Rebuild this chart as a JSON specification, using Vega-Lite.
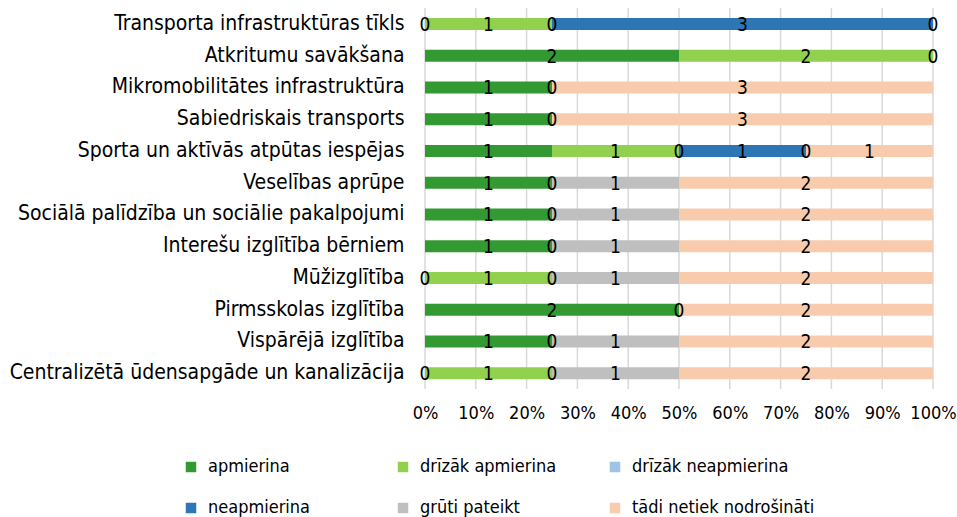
{
  "$schema": "https://vega.github.io/schema/vega-lite/v6.json",
  "autosize": {"type": "none"},
  "width": 508,
  "height": 381,
  "padding": {"left": 425, "top": 8, "right": 24, "bottom": 128},
  "background": "white",
  "config": {
    "view": {"stroke": null},
    "font": "'DejaVu Sans Condensed', 'Liberation Sans', sans-serif",
    "axis": {"labelFont": "'DejaVu Sans Condensed', 'Liberation Sans', sans-serif", "labelColor": "#000000"},
    "legend": {"labelFont": "'DejaVu Sans Condensed', 'Liberation Sans', sans-serif"}
  },
  "layer": [
    {
      "data": {"values": [{"tick": 0}, {"tick": 0.1}, {"tick": 0.2}, {"tick": 0.3}, {"tick": 0.4}, {"tick": 0.5}, {"tick": 0.6}, {"tick": 0.7}, {"tick": 0.8}, {"tick": 0.9}, {"tick": 1}]},
      "mark": {"type": "rule", "color": "#d9d9d9", "strokeWidth": 1.5},
      "encoding": {
        "x": {
          "field": "tick", "type": "quantitative",
          "scale": {"domain": [0, 1], "nice": false, "zero": false},
          "axis": {"title": null, "format": ".0%", "values": [0, 0.1, 0.2, 0.3, 0.4, 0.5, 0.6, 0.7, 0.8, 0.9, 1], "grid": false, "labelOverlap": false, "labelFlush": false, "domain": false, "tickSize": 0, "labelFontSize": 18, "labelPadding": 15}
        }
      }
    },
    {
      "data": {
        "values": [
          {"category": "Transporta infrastruktūras tīkls", "series": "apmierina", "value": 0},
          {"category": "Transporta infrastruktūras tīkls", "series": "drīzāk apmierina", "value": 1},
          {"category": "Transporta infrastruktūras tīkls", "series": "drīzāk neapmierina", "value": 0},
          {"category": "Transporta infrastruktūras tīkls", "series": "neapmierina", "value": 3},
          {"category": "Transporta infrastruktūras tīkls", "series": "grūti pateikt", "value": 0},
          {"category": "Atkritumu savākšana", "series": "apmierina", "value": 2},
          {"category": "Atkritumu savākšana", "series": "drīzāk apmierina", "value": 2},
          {"category": "Atkritumu savākšana", "series": "drīzāk neapmierina", "value": 0},
          {"category": "Mikromobilitātes infrastruktūra", "series": "apmierina", "value": 1},
          {"category": "Mikromobilitātes infrastruktūra", "series": "drīzāk apmierina", "value": 0},
          {"category": "Mikromobilitātes infrastruktūra", "series": "tādi netiek nodrošināti", "value": 3},
          {"category": "Sabiedriskais transports", "series": "apmierina", "value": 1},
          {"category": "Sabiedriskais transports", "series": "drīzāk apmierina", "value": 0},
          {"category": "Sabiedriskais transports", "series": "tādi netiek nodrošināti", "value": 3},
          {"category": "Sporta un aktīvās atpūtas iespējas", "series": "apmierina", "value": 1},
          {"category": "Sporta un aktīvās atpūtas iespējas", "series": "drīzāk apmierina", "value": 1},
          {"category": "Sporta un aktīvās atpūtas iespējas", "series": "drīzāk neapmierina", "value": 0},
          {"category": "Sporta un aktīvās atpūtas iespējas", "series": "neapmierina", "value": 1},
          {"category": "Sporta un aktīvās atpūtas iespējas", "series": "grūti pateikt", "value": 0},
          {"category": "Sporta un aktīvās atpūtas iespējas", "series": "tādi netiek nodrošināti", "value": 1},
          {"category": "Veselības aprūpe", "series": "apmierina", "value": 1},
          {"category": "Veselības aprūpe", "series": "drīzāk apmierina", "value": 0},
          {"category": "Veselības aprūpe", "series": "grūti pateikt", "value": 1},
          {"category": "Veselības aprūpe", "series": "tādi netiek nodrošināti", "value": 2},
          {"category": "Sociālā palīdzība un sociālie pakalpojumi", "series": "apmierina", "value": 1},
          {"category": "Sociālā palīdzība un sociālie pakalpojumi", "series": "drīzāk apmierina", "value": 0},
          {"category": "Sociālā palīdzība un sociālie pakalpojumi", "series": "grūti pateikt", "value": 1},
          {"category": "Sociālā palīdzība un sociālie pakalpojumi", "series": "tādi netiek nodrošināti", "value": 2},
          {"category": "Interešu izglītība bērniem", "series": "apmierina", "value": 1},
          {"category": "Interešu izglītība bērniem", "series": "drīzāk apmierina", "value": 0},
          {"category": "Interešu izglītība bērniem", "series": "grūti pateikt", "value": 1},
          {"category": "Interešu izglītība bērniem", "series": "tādi netiek nodrošināti", "value": 2},
          {"category": "Mūžizglītība", "series": "apmierina", "value": 0},
          {"category": "Mūžizglītība", "series": "drīzāk apmierina", "value": 1},
          {"category": "Mūžizglītība", "series": "drīzāk neapmierina", "value": 0},
          {"category": "Mūžizglītība", "series": "grūti pateikt", "value": 1},
          {"category": "Mūžizglītība", "series": "tādi netiek nodrošināti", "value": 2},
          {"category": "Pirmsskolas izglītība", "series": "apmierina", "value": 2},
          {"category": "Pirmsskolas izglītība", "series": "drīzāk apmierina", "value": 0},
          {"category": "Pirmsskolas izglītība", "series": "tādi netiek nodrošināti", "value": 2},
          {"category": "Vispārējā izglītība", "series": "apmierina", "value": 1},
          {"category": "Vispārējā izglītība", "series": "drīzāk apmierina", "value": 0},
          {"category": "Vispārējā izglītība", "series": "grūti pateikt", "value": 1},
          {"category": "Vispārējā izglītība", "series": "tādi netiek nodrošināti", "value": 2},
          {"category": "Centralizētā ūdensapgāde un kanalizācija", "series": "apmierina", "value": 0},
          {"category": "Centralizētā ūdensapgāde un kanalizācija", "series": "drīzāk apmierina", "value": 1},
          {"category": "Centralizētā ūdensapgāde un kanalizācija", "series": "drīzāk neapmierina", "value": 0},
          {"category": "Centralizētā ūdensapgāde un kanalizācija", "series": "grūti pateikt", "value": 1},
          {"category": "Centralizētā ūdensapgāde un kanalizācija", "series": "tādi netiek nodrošināti", "value": 2}
        ]
      },
      "transform": [
        {"calculate": "datum.series === 'apmierina' ? 0 : datum.series === 'drīzāk apmierina' ? 1 : datum.series === 'drīzāk neapmierina' ? 2 : datum.series === 'neapmierina' ? 3 : datum.series === 'grūti pateikt' ? 4 : 5", "as": "ord"},
        {"stack": "value", "groupby": ["category"], "sort": [{"field": "ord", "order": "ascending"}], "offset": "normalize", "as": ["x0", "x1"]},
        {"calculate": "(datum.x0 + datum.x1) / 2", "as": "xm"}
      ],
      "encoding": {
        "y": {
          "field": "category",
          "type": "nominal",
          "sort": ["Transporta infrastruktūras tīkls", "Atkritumu savākšana", "Mikromobilitātes infrastruktūra", "Sabiedriskais transports", "Sporta un aktīvās atpūtas iespējas", "Veselības aprūpe", "Sociālā palīdzība un sociālie pakalpojumi", "Interešu izglītība bērniem", "Mūžizglītība", "Pirmsskolas izglītība", "Vispārējā izglītība", "Centralizētā ūdensapgāde un kanalizācija"],
          "scale": {"paddingInner": 0, "paddingOuter": 0},
          "axis": {"title": null, "domain": false, "tickSize": 0, "labelFontSize": 21, "labelPadding": 21, "labelLimit": 430, "grid": false}
        }
      },
      "layer": [
        {
          "mark": {"type": "bar", "size": 12},
          "encoding": {
            "x": {"field": "x0", "type": "quantitative", "axis": {"grid": false}},
            "x2": {"field": "x1"},
            "color": {
              "field": "series", "type": "nominal",
              "scale": {
                "domain": ["apmierina", "drīzāk apmierina", "drīzāk neapmierina", "neapmierina", "grūti pateikt", "tādi netiek nodrošināti"],
                "range": ["#339933", "#92d050", "#9dc3e6", "#2e75b6", "#bfbfbf", "#f8cbad"]
              },
              "legend": {
                "title": null, "orient": "none", "legendX": -243, "legendY": 450,
                "direction": "horizontal", "columns": 3, "gridAlign": "all",
                "symbolType": "square", "symbolSize": 110, "symbolStrokeWidth": 0,
                "labelFontSize": 18, "labelOffset": 8, "labelLimit": 300,
                "columnPadding": 3, "rowPadding": 23
              }
            }
          }
        },
        {
          "mark": {"type": "text", "fontSize": 19, "color": "#000000", "baseline": "middle", "align": "center", "dy": 1},
          "encoding": {
            "x": {"field": "xm", "type": "quantitative", "axis": {"grid": false}},
            "text": {"field": "value", "type": "quantitative"}
          }
        }
      ]
    }
  ]
}
